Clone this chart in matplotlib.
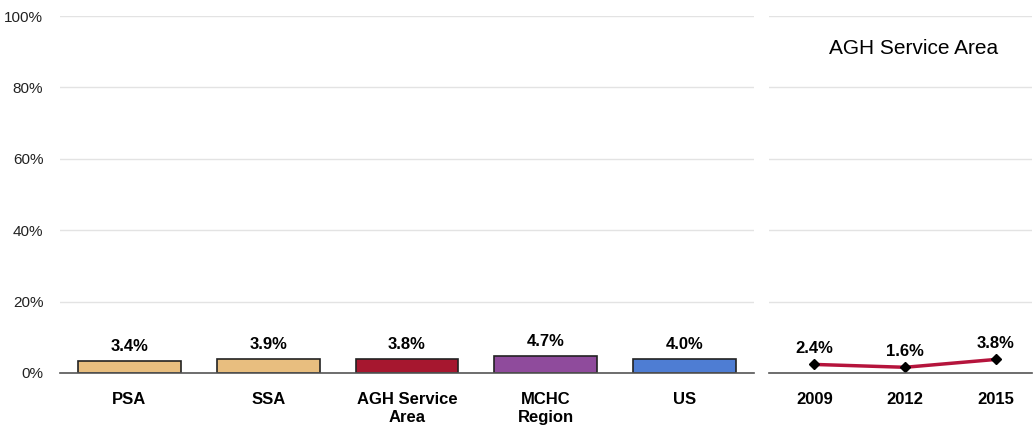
import matplotlib.pyplot as plt

plt.rcParams['font.family'] = ['Liberation Sans Narrow', 'Liberation Sans', 'DejaVu Sans']

categories = ["PSA", "SSA", "AGH Service\nArea", "MCHC\nRegion", "US"]
values = [3.4, 3.9, 3.8, 4.7, 4.0]
bar_colors = ["#E8BE7F", "#E8BE7F", "#A6172F", "#8F4B9C", "#4E7DD3"]

years = ["2009", "2012", "2015"]
trend = [2.4, 1.6, 3.8]

fig = plt.figure(figsize=(10.33, 4.3), dpi=100)
ax1 = fig.add_axes([60 / 1033, 57 / 430, 694 / 1033, 357 / 430])
ax2 = fig.add_axes([769 / 1033, 57 / 430, 263 / 1033, 357 / 430])

for ax in (ax1, ax2):
    ax.set_ylim(0, 100)
    ax.set_yticks(range(0, 101, 20))
    ax.grid(axis='y', color='#E3E3E3', linewidth=1)
    ax.set_axisbelow(True)
    for s in ('left', 'right', 'top'):
        ax.spines[s].set_visible(False)
    ax.spines['bottom'].set_color('#555555')
    ax.spines['bottom'].set_linewidth(1.2)
    ax.tick_params(axis='both', length=0)
    ax.tick_params(axis='x', pad=14, labelsize=12)

ax1.set_yticklabels([f"{v}%" for v in range(0, 101, 20)], fontsize=11, color='#222222')
ax1.tick_params(axis='y', pad=12)
ax2.set_yticklabels([])

x = range(len(categories))
ax1.bar(x, values, width=0.74, color=bar_colors, edgecolor='#222222', linewidth=1.2)
ax1.set_xlim(-0.5, 4.5)
ax1.set_xticks(list(x))
ax1.set_xticklabels(categories, fontweight='bold', linespacing=1.2)
for i, v in enumerate(values):
    ax1.annotate(f"{v:.1f}%", (i, v), xytext=(0, 5), textcoords='offset points',
                 ha='center', va='bottom', fontsize=12, fontweight='bold')

xp = range(len(years))
ax2.plot(xp, trend, color='#B5143C', linewidth=2.5, marker='D', markersize=5,
         markerfacecolor='black', markeredgecolor='black')
ax2.set_xlim(-0.5, 2.4)
ax2.set_xticks(list(xp))
ax2.set_xticklabels(years, fontweight='bold')
for i, v in enumerate(trend):
    ax2.annotate(f"{v:.1f}%", (i, v), xytext=(0, 6), textcoords='offset points',
                 ha='center', va='bottom', fontsize=12, fontweight='bold')
ax2.text(0.55, 0.91, "AGH Service Area", transform=ax2.transAxes, ha='center',
         va='center', fontsize=15)

fig.savefig("out.png", dpi=100)
